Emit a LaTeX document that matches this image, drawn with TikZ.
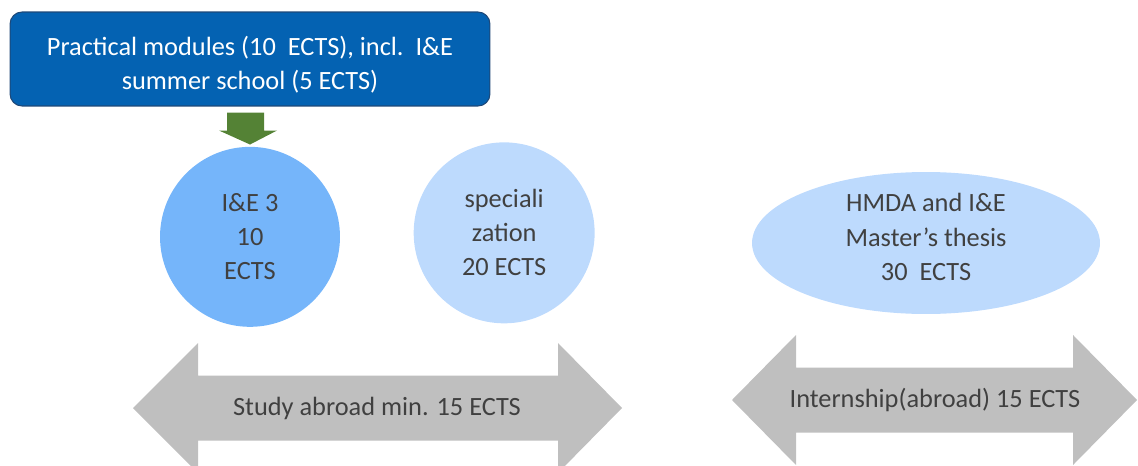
\documentclass[tikz,border=0pt]{standalone}
\usepackage{fontspec}
\setmainfont{Carlito}
\usetikzlibrary{shapes,positioning,calc}

\definecolor{boxblue}{RGB}{4,98,178}
\definecolor{boxedge}{RGB}{30,72,120}
\definecolor{midblue}{RGB}{117,181,250}
\definecolor{lightblue}{RGB}{189,218,253}
\definecolor{arrowgreen}{RGB}{84,130,53}
\definecolor{arrowgray}{RGB}{191,191,191}
\definecolor{textgray}{RGB}{64,64,64}

\begin{document}
\begin{tikzpicture}
  [x=0.02cm,y=-0.02cm,
   every node/.style={font=\fontsize{15}{19.4}\selectfont,align=center},
   topBox/.style={rectangle,rounded corners=0.24cm,fill=boxblue,draw=boxedge,
     line width=0.6pt,text=white,minimum width=9.6cm,minimum height=1.88cm},
   midC/.style={circle,fill=midblue,text=textgray,minimum size=3.6cm,inner sep=0pt},
   lightC/.style={circle,fill=lightblue,text=textgray,minimum size=3.62cm,inner sep=0pt},
   lightE/.style={ellipse,fill=lightblue,text=textgray,minimum width=6.96cm,
     minimum height=2.84cm,inner sep=0pt},
   grayArr/.style={fill=arrowgray},
   arrText/.style={text=textgray},
   node distance=0.8cm]

  \useasboundingbox (0,0) rectangle (1138,466);

  \node[topBox] (prac) at (250,59)
    {\rule{0pt}{17pt}Practical modules (10~~ECTS), incl.~~I\&E\\summer school (5 ECTS)};

  \node[midC]   (ie3)  [below=of prac]                    {I\&E 3\\10\\ECTS};
  \node[lightC] (spec) [right=1.46cm of ie3,yshift=0.08cm] {speciali\\zation\\20 ECTS};
  \node[lightE] (thesis) at (926,243)
    {HMDA and I\&E\\Master's thesis\\30~~ECTS\rule[-7pt]{0pt}{1pt}};

  % green arrow from the box down to I&E 3
  \fill[arrowgreen] ($(prac.south)+(-23,6)$) -- ++(37,0) -- ++(0,18) -- ++(13,0)
    -- ($(ie3.north)+(0,-2)$) -- ($(prac.south)+(-31,24)$) -- ++(8,0) -- cycle;

  % double arrows
  \fill[grayArr] (133,408) -- (198,343) -- (198,375.5) -- (558,375.5) -- (558,343)
    -- (622,408) -- (558,473) -- (558,440.5) -- (198,440.5) -- (198,473) -- cycle;
  \node[arrText] (abroad) at (377,408) {Study abroad min. 15 ECTS};

  \fill[grayArr] (732,400) -- (796,335) -- (796,367.5) -- (1073,367.5) -- (1073,335)
    -- (1137,400) -- (1073,465) -- (1073,432.5) -- (796,432.5) -- (796,465) -- cycle;
  \node[arrText] (intern) at (935,400) {Internship(abroad) 15 ECTS};
\end{tikzpicture}
\end{document}
